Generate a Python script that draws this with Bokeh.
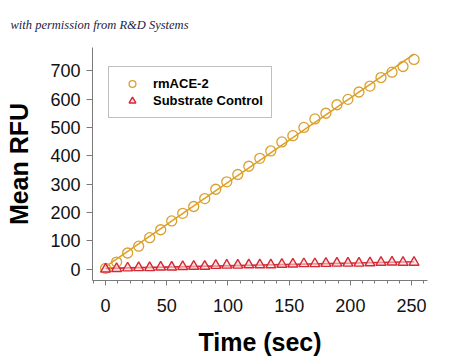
import numpy as np
from bokeh.plotting import figure
from bokeh.models import FixedTicker, Range1d, Legend, LegendItem
from bokeh.embed import file_html
from bokeh.resources import INLINE

time_sec = [0, 9, 18, 27, 36, 45, 54, 63, 72, 81, 90, 99, 108, 117, 126, 135, 144,
            153, 162, 171, 180, 189, 198, 207, 216, 225, 234, 243, 252]
rmace2 = [3, 25, 57, 81, 111, 139, 170, 197, 221, 249, 282, 308, 334, 363, 391, 417,
          449, 471, 500, 530, 550, 580, 599, 625, 646, 676, 695, 715, 740]
substrate_control = [0, 2, 4, 5, 5, 7, 7, 9, 10, 10, 13, 14, 14, 15, 15, 15, 17, 18,
                     19, 19, 20, 21, 21, 21, 22, 24, 25, 24, 24]
x_ticks = [0, 50, 100, 150, 200, 250]
y_ticks = [0, 100, 200, 300, 400, 500, 600, 700]
credit = "with permission from R&D Systems"

t = np.array(time_sec, dtype=float)
a_fit = np.polyfit(t, rmace2, 1)
c_fit = np.polyfit(t, substrate_control, 1)
fit_x = np.array([t.min(), t.max()])

ORANGE = "#E0A020"
RED = "#D42A35"
AXIS = "#7a7a7a"

p = figure(width=448, height=358, output_backend="svg", toolbar_location=None,
           x_range=Range1d(-10.7, 263), y_range=Range1d(-40, 782),
           min_border_left=92, min_border_right=21, min_border_top=47,
           min_border_bottom=74, title=credit)
p.outline_line_color = None
p.grid.visible = False
p.background_fill_color = "white"
p.border_fill_color = "white"

p.title.text_font = "Liberation Serif"
p.title.text_font_style = "italic"
p.title.text_font_size = "12.5px"
p.title.text_color = "#1c2244"
p.title.align = "left"
p.title.offset = -82
p.title.standoff = 31

la = p.line(fit_x, np.polyval(a_fit, fit_x), line_color=ORANGE, line_width=1.6)
lc = p.line(fit_x, np.polyval(c_fit, fit_x), line_color=RED, line_width=1.6)
ca = p.scatter(time_sec, rmace2, marker="circle", size=10, line_color="#D9A030",
               fill_color=None, line_width=1.3)
tc = p.scatter(time_sec, substrate_control, marker="triangle", size=10, line_color=RED,
               fill_color="#f6d6d6", fill_alpha=0.6, line_width=1.4)

for ax in (p.xaxis[0], p.yaxis[0]):
    ax.axis_line_color = AXIS
    ax.major_tick_line_color = AXIS
    ax.minor_tick_line_color = AXIS
    ax.major_label_text_font = "Liberation Sans"
    ax.major_label_text_font_size = "18px"
    ax.major_label_text_color = "#111111"
    ax.axis_label_text_font = "Liberation Sans"
    ax.axis_label_text_font_style = "bold"
    ax.axis_label_text_font_size = "25px"
    ax.axis_label_text_color = "#000000"
    ax.major_tick_in = 0

p.xaxis.ticker = FixedTicker(ticks=x_ticks, minor_ticks=list(range(-10, 261, 10)))
p.xaxis.major_tick_out = 5
p.xaxis.minor_tick_in = 0
p.xaxis.minor_tick_out = 3
p.xaxis.major_label_standoff = 13
p.xaxis.axis_label = "Time (sec)"
p.xaxis.axis_label_standoff = 13

p.yaxis.ticker = FixedTicker(ticks=y_ticks)
p.yaxis.major_tick_out = 6
p.yaxis.minor_tick_line_color = None
p.yaxis.major_label_standoff = 6
p.yaxis.axis_label = "Mean RFU"
p.yaxis.axis_label_standoff = 14

legend = Legend(items=[LegendItem(label="rmACE-2", renderers=[ca]),
                       LegendItem(label="Substrate Control", renderers=[tc])],
                location=(16, 162))
legend.border_line_color = "#808080"
legend.border_line_width = 1
legend.label_text_font = "Liberation Sans"
legend.label_text_font_style = "bold"
legend.label_text_font_size = "13px"
legend.label_text_color = "#000000"
legend.padding = 8
legend.spacing = 0
legend.margin = 0
legend.glyph_width = 30
legend.glyph_height = 17
legend.label_height = 17
legend.label_standoff = 6
legend.background_fill_alpha = 1
p.add_layout(legend, "center")

open("out.html", "w").write(file_html(p, INLINE))
